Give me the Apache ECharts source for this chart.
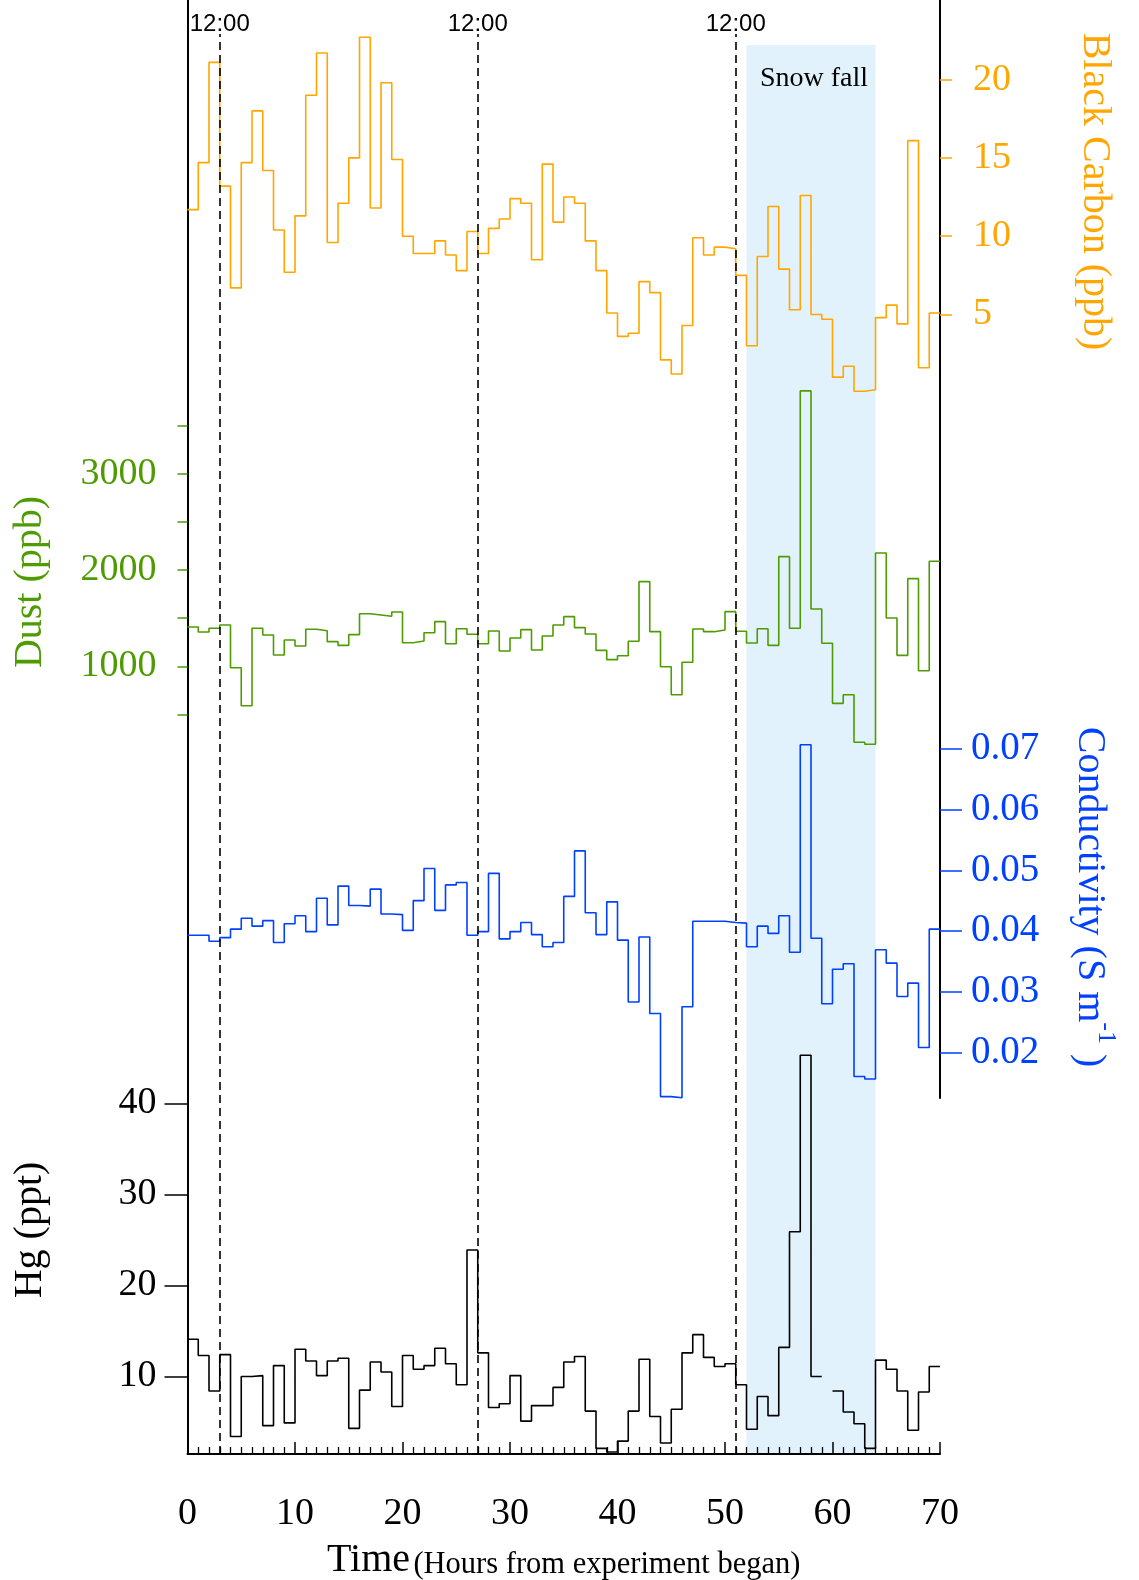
<!DOCTYPE html>
<html>
<head>
<meta charset="utf-8">
<script src="https://cdn.jsdelivr.net/npm/echarts@6/dist/echarts.min.js"></script>
<style>
html, body { margin: 0; padding: 0; background: #fff; }
#chart { width: 1139px; height: 1580px; }
</style>
</head>
<body>
<div id="chart"></div>
<script>
// Hourly means, one value per hour starting at hour 0 (each value holds for one hour).
const blackCarbon = [
  11.7, 14.7, 21.1, 13.2, 6.7, 14.7, 18.0, 14.2, 10.4, 7.7,
  11.3, 19.0, 21.7, 9.6, 12.1, 15.0, 22.7, 11.8, 19.8, 14.9,
  10.0, 8.9, 8.9, 9.7, 8.8, 7.8, 10.3, 8.9, 10.5, 11.1,
  12.4, 12.1, 8.5, 14.6, 10.9, 12.5, 12.1, 9.7, 7.8, 5.1,
  3.6, 3.8, 7.1, 6.4, 2.1, 1.2, 4.3, 9.9, 8.8, 9.3,
  9.2, 7.5, 3.0, 8.7, 11.9, 7.9, 5.3, 12.6, 5.0, 4.7,
  1.0, 1.7, 0.1, 0.2, 4.8, 5.6, 4.4, 16.1, 1.6, 5.1
];
const dust = [
  1409, 1357, 1395, 1430, 985, 590, 1395, 1326, 1118, 1274,
  1211, 1385, 1370, 1256, 1218, 1329, 1547, 1534, 1520, 1565,
  1245, 1263, 1349, 1464, 1235, 1391, 1333, 1235, 1367, 1159,
  1294, 1381, 1170, 1315, 1430, 1516, 1402, 1336, 1166, 1069,
  1110, 1260, 1880, 1360, 996, 705, 1042, 1388, 1360, 1378,
  1568, 1364, 1242, 1391, 1218, 2140, 1395, 3863, 1596, 1239,
  615, 705, 210, 189, 2178, 1502, 1114, 1911, 954, 2092
];
const conductivity = [
  0.0393, 0.0393, 0.0383, 0.0389, 0.0403, 0.0421, 0.0408, 0.0417, 0.0381, 0.0412,
  0.0425, 0.0399, 0.0454, 0.0410, 0.0474, 0.0442, 0.0441, 0.0469, 0.0428, 0.0427,
  0.0401, 0.0450, 0.0503, 0.0434, 0.0476, 0.0480, 0.0393, 0.0399, 0.0495, 0.0387,
  0.0399, 0.0414, 0.0394, 0.0374, 0.0381, 0.0457, 0.0532, 0.0430, 0.0394, 0.0448,
  0.0385, 0.0283, 0.0390, 0.0264, 0.0127, 0.0125, 0.0275, 0.0416, 0.0416, 0.0416,
  0.0414, 0.0413, 0.0374, 0.0408, 0.0396, 0.0425, 0.0365, 0.0707, 0.0388, 0.0280,
  0.0337, 0.0346, 0.0160, 0.0156, 0.0369, 0.0347, 0.0292, 0.0314, 0.0208, 0.0403
];
const mercury = [
  14.1, 12.3, 8.4, 12.4, 3.4, 10.0, 10.1, 4.6, 11.2, 4.9,
  13.0, 11.7, 10.1, 11.7, 12.0, 4.3, 8.5, 11.6, 10.5, 6.7,
  12.3, 10.8, 11.2, 13.1, 11.4, 9.1, 23.9, 12.6, 6.6, 7.0,
  10.1, 5.1, 6.8, 6.8, 8.8, 11.6, 12.2, 6.2, 2.1, 1.7,
  2.9, 6.2, 11.9, 5.6, 2.7, 6.4, 12.6, 14.6, 12.1, 11.1,
  11.4, 9.1, 4.2, 7.8, 5.7, 13.2, 25.9, 45.3, 10.0, null,
  8.4, 6.1, 4.8, 2.1, 11.8, 10.8, 8.4, 4.1, 8.3, 11.1
];

// Time axis and annotations
const timeRange = [0, 70];
const middayHours = [3, 27, 51];
const middayLabel = '12:00';
const snowFall = [52, 64];
const snowLabel = 'Snow fall';

// Tick values for the four measurement axes
const bcTicks = [5, 10, 15, 20];
const dustTicks = [500, 1000, 1500, 2000, 2500, 3000, 3500];
const dustLabels = [1000, 2000, 3000];
const condTicks = [0.02, 0.03, 0.04, 0.05, 0.06, 0.07];
const hgTicks = [10, 20, 30, 40];

const ORANGE = '#FFA600';
const GREEN = '#4E9C02';
const BLUE = '#0040FF';
const BLACK = '#000000';
const SERIF = '"Liberation Serif", "Times New Roman", serif';
const SANS = '"Liberation Sans", Arial, sans-serif';

// Hourly values -> [hour, value] pairs for an 'end' step line; a closing point
// finishes the last hour before a gap or at the end of the record.
function hourlySteps(vals) {
  const out = [];
  vals.forEach((v, i) => {
    if (v == null) { out.push([i, null]); return; }
    out.push([i, v]);
    if (i === vals.length - 1 || vals[i + 1] == null) out.push([i + 1, v]);
  });
  return out;
}

// Axis extent so that value v1 sits at pixel p1 and v2 at p2 inside a grid spanning top..bottom.
function extentFor(v1, p1, v2, p2, top, bottom) {
  const k = (v2 - v1) / (p2 - p1);
  return { min: v1 + (bottom - p1) * k, max: v1 + (top - p1) * k };
}

const PLOT_LEFT = 187.5, PLOT_RIGHT = 940;
const BOTTOM_Y = 1454, UPPER_BOTTOM_Y = 1098;
const W = 1139, H = 1580;

const hgExt = extentFor(10, 1376.5, 40, 1103.5, 0, BOTTOM_Y);
const dustExt = extentFor(1000, 666.3, 2000, 570.1, 0, BOTTOM_Y);
const bcExt = extentFor(20, 79.6, 5, 314.5, 0, UPPER_BOTTOM_Y);
const condExt = extentFor(0.07, 749, 0.02, 1052.3, 0, UPPER_BOTTOM_Y);

function gridBox(top, bottomY) {
  return { left: PLOT_LEFT, right: W - PLOT_RIGHT, top: top, height: bottomY - top,
           containLabel: false, outerBoundsMode: 'none', show: false };
}

function hiddenX(gridIndex) {
  return { type: 'value', gridIndex, min: timeRange[0], max: timeRange[1], show: false,
           axisLine: { onZero: false } };
}
function hiddenY(gridIndex) {
  return { type: 'value', gridIndex, min: 0, max: 1, show: false, axisLine: { onZero: false } };
}

const tickLabel = (color, margin) => ({
  color, fontFamily: SERIF, fontSize: 38, margin
});

const stepLine = (name, vals, color, xi, yi) => ({
  name, type: 'line', step: 'end', xAxisIndex: xi, yAxisIndex: yi,
  data: hourlySteps(vals), showSymbol: false, symbol: 'none', clip: false,
  lineStyle: { color, width: 1.6 }, itemStyle: { color }, z: 3
});

const option = {
  animation: false,
  backgroundColor: '#ffffff',
  grid: [
    gridBox(0, BOTTOM_Y),         // Hg, dust and the time axis
    gridBox(0, UPPER_BOTTOM_Y),   // black carbon and conductivity
    gridBox(34, BOTTOM_Y),        // 12:00 markers
    gridBox(45, BOTTOM_Y)         // snow fall period
  ],
  xAxis: [
    {
      type: 'value', gridIndex: 0, position: 'bottom', min: timeRange[0], max: timeRange[1], interval: 10,
      zlevel: 1, z: 6,
      axisLine: { show: true, onZero: false, lineStyle: { color: BLACK, width: 2 } },
      axisTick: { show: true, inside: true, length: 12, lineStyle: { color: BLACK, width: 1.5 } },
      minorTick: { show: true, splitNumber: 10, length: 7, lineStyle: { color: BLACK, width: 1.3 } },
      axisLabel: tickLabel(BLACK, 41),
      splitLine: { show: false },
      minorSplitLine: { show: false },
      name: '{big|Time} {small|(Hours from experiment began)}',
      nameLocation: 'middle',
      nameGap: 82,
      nameTextStyle: {
        rich: {
          big: { fontFamily: SERIF, fontSize: 40, color: BLACK, verticalAlign: 'bottom', lineHeight: 44 },
          small: { fontFamily: SERIF, fontSize: 30.5, color: BLACK, verticalAlign: 'bottom', lineHeight: 44 }
        }
      }
    },
    hiddenX(1), hiddenX(2), hiddenX(3)
  ],
  yAxis: [
    {
      type: 'value', gridIndex: 0, position: 'left', min: hgExt.min, max: hgExt.max,
      axisLine: { show: true, onZero: false, lineStyle: { color: BLACK, width: 2 } },
      axisTick: { show: true, length: 23, customValues: hgTicks, lineStyle: { color: BLACK, width: 1.5 } },
      axisLabel: Object.assign(tickLabel(BLACK, 31), { customValues: hgTicks }),
      splitLine: { show: false }
    },
    {
      type: 'value', gridIndex: 0, position: 'left', min: dustExt.min, max: dustExt.max,
      axisLine: { show: false, onZero: false },
      axisTick: { show: true, length: 10, customValues: dustTicks, lineStyle: { color: GREEN, width: 1.5 } },
      axisLabel: Object.assign(tickLabel(GREEN, 31), {
        customValues: dustLabels, formatter: v => String(v)
      }),
      splitLine: { show: false }
    },
    {
      type: 'value', gridIndex: 1, position: 'right', min: bcExt.min, max: bcExt.max,
      axisLine: { show: true, onZero: false, lineStyle: { color: BLACK, width: 2 } },
      axisTick: { show: true, length: 12, customValues: bcTicks, lineStyle: { color: ORANGE, width: 1.5 } },
      axisLabel: Object.assign(tickLabel(ORANGE, 33), { customValues: bcTicks }),
      splitLine: { show: false }
    },
    {
      type: 'value', gridIndex: 1, position: 'right', min: condExt.min, max: condExt.max,
      axisLine: { show: false, onZero: false },
      axisTick: { show: true, length: 22, customValues: condTicks, lineStyle: { color: BLUE, width: 1.5 } },
      axisLabel: Object.assign(tickLabel(BLUE, 31), {
        fontSize: 39, customValues: condTicks, formatter: v => v.toFixed(2)
      }),
      splitLine: { show: false }
    },
    hiddenY(2), hiddenY(3)
  ],
  series: [
    stepLine('Hg', mercury, BLACK, 0, 0),
    stepLine('Dust', dust, GREEN, 0, 1),
    stepLine('Black Carbon', blackCarbon, ORANGE, 1, 2),
    stepLine('Conductivity', conductivity, BLUE, 1, 3),
    {
      name: 'midday', type: 'line', xAxisIndex: 2, yAxisIndex: 4, data: [], z: 4,
      markLine: {
        silent: true, symbol: ['none', 'none'], animation: false,
        lineStyle: { color: BLACK, type: [8, 5], width: 1.6 },
        label: { show: true, position: 'end', distance: -2, formatter: middayLabel,
                 color: BLACK, fontFamily: SANS, fontSize: 24 },
        emphasis: { disabled: true },
        data: middayHours.map(h => ({ xAxis: h }))
      }
    },
    {
      // snow band sits on the lowest canvas layer, beneath the axes and the records
      name: 'snow', type: 'line', xAxisIndex: 3, yAxisIndex: 5, data: [], zlevel: -1, z: 0,
      markArea: {
        silent: true, animation: false, zlevel: -1, z: 0,
        itemStyle: { color: '#E1F2FC' },
        label: { show: true, position: 'insideTop', distance: 20, formatter: snowLabel,
                 offset: [3, 0], color: BLACK, fontFamily: SERIF, fontSize: 28 },
        emphasis: { disabled: true },
        data: [[{ xAxis: snowFall[0] }, { xAxis: snowFall[1] }]]
      }
    }
  ],
  graphic: [
    { type: 'text', x: 1094, y: 191.5, rotation: -Math.PI / 2,
      style: { text: 'Black Carbon (ppb)', fill: ORANGE, fontFamily: SERIF, fontSize: 40,
               align: 'center', verticalAlign: 'middle' } },
    { type: 'text', x: 30, y: 582, rotation: Math.PI / 2,
      style: { text: 'Dust (ppb)', fill: GREEN, fontFamily: SERIF, fontSize: 40,
               align: 'center', verticalAlign: 'middle' } },
    { type: 'text', x: 1094, y: 897, rotation: -Math.PI / 2,
      style: { text: '{m|Conductivity (S m}{s|-1}{m| )}', fill: BLUE,
               align: 'center', verticalAlign: 'middle',
               rich: {
                 m: { fill: BLUE, fontFamily: SERIF, fontSize: 40, lineHeight: 50, verticalAlign: 'bottom' },
                 s: { fill: BLUE, fontFamily: SERIF, fontSize: 26, lineHeight: 50, verticalAlign: 'top' }
               } } },
    { type: 'text', x: 30, y: 1230, rotation: Math.PI / 2,
      style: { text: 'Hg (ppt)', fill: BLACK, fontFamily: SERIF, fontSize: 40,
               align: 'center', verticalAlign: 'middle' } }
  ]
};

const chart = echarts.init(document.getElementById('chart'), null, { renderer: 'canvas', width: W, height: H });
chart.setOption(option);
</script>
</body>
</html>
